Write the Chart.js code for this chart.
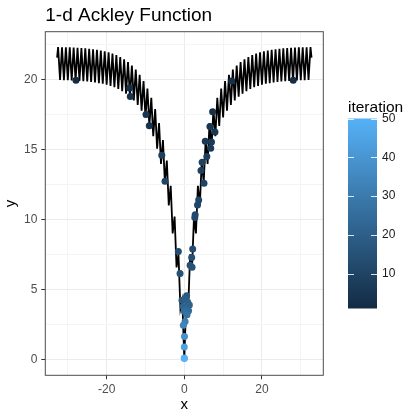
<!DOCTYPE html>
<html>
<head>
<meta charset="utf-8">
<script src="https://cdn.jsdelivr.net/npm/chart.js@4.4.1/dist/chart.umd.min.js"></script>
<style>
  html, body { margin: 0; padding: 0; background: #fff; }
  canvas { display: block; }
</style>
</head>
<body>
<canvas id="ackley" width="408" height="413"></canvas>
<script>
// Ackley function, 1-d, sampled every half unit (troughs at integers, peaks at halves)
var curveX = [
  -32.77, -32.5, -32, -31.5, -31, -30.5, -30, -29.5, -29, -28.5, -28, -27.5, -27, -26.5, -26, -25.5,
  -25, -24.5, -24, -23.5, -23, -22.5, -22, -21.5, -21, -20.5, -20, -19.5, -19, -18.5, -18, -17.5,
  -17, -16.5, -16, -15.5, -15, -14.5, -14, -13.5, -13, -12.5, -12, -11.5, -11, -10.5, -10, -9.5,
  -9, -8.5, -8, -7.5, -7, -6.5, -6, -5.5, -5, -4.5, -4, -3.5, -3, -2.5, -2, -1.5, -1, -0.5,
  0,
  0.5, 1, 1.5, 2, 2.5, 3, 3.5, 4, 4.5, 5, 5.5, 6, 6.5, 7, 7.5, 8, 8.5, 9, 9.5, 10,
  10.5, 11, 11.5, 12, 12.5, 13, 13.5, 14, 14.5, 15, 15.5, 16, 16.5, 17, 17.5, 18, 18.5, 19, 19.5, 20,
  20.5, 21, 21.5, 22, 22.5, 23, 23.5, 24, 24.5, 25, 25.5, 26, 26.5, 27, 27.5, 28, 28.5, 29, 29.5, 30,
  30.5, 31, 31.5, 32, 32.5, 32.77
]
var curveY = [
  21.57, 22.32, 19.97, 22.31, 19.96, 22.31, 19.95, 22.30, 19.94, 22.28, 19.93, 22.27, 19.91, 22.25, 19.89, 22.23,
  19.87, 22.20, 19.84, 22.17, 19.80, 22.13, 19.75, 22.08, 19.70, 22.02, 19.63, 21.95, 19.55, 21.86, 19.45, 21.75,
  19.33, 21.61, 19.18, 21.45, 19.00, 21.25, 18.78, 21.01, 18.51, 20.71, 18.19, 20.35, 17.78, 19.90, 17.29, 19.36,
  16.69, 18.70, 15.96, 17.89, 15.07, 16.90, 13.98, 15.69, 12.64, 14.22, 11.01, 12.42, 9.02, 10.22, 6.59, 7.53, 3.63, 4.25,
  0,
  4.25, 3.63, 7.53, 6.59, 10.22, 9.02, 12.42, 11.01, 14.22, 12.64, 15.69, 13.98, 16.90, 15.07, 17.89, 15.96, 18.70, 16.69, 19.36, 17.29,
  19.90, 17.78, 20.35, 18.19, 20.71, 18.51, 21.01, 18.78, 21.25, 19.00, 21.45, 19.18, 21.61, 19.33, 21.75, 19.45, 21.86, 19.55, 21.95, 19.63,
  22.02, 19.70, 22.08, 19.75, 22.13, 19.80, 22.17, 19.84, 22.20, 19.87, 22.23, 19.89, 22.25, 19.91, 22.27, 19.93, 22.28, 19.94, 22.30, 19.95,
  22.31, 19.96, 22.31, 19.97, 22.32, 21.57
]

// search points, one per step, coloured by iteration
var pointX = [-27.9, 28.06, 12.2, -14.1, -13.9, 7.3, -9.86, -9.0, 6.6, 7.9, 5.4, 7.0, 6.8, -5.8, 5.8, 4.6, 4.3,
  -4.97, 5.07, 3.7, 3.4, 2.8, 2.7, 2.16, -1.54, 1.9, 1.5, 2.0, -1.1, 0.6, -0.6, 0.2, 0.9, 1.3, -0.3, 0.5, 1.1, 0.0,
  0.7, 0.2, -0.25, 0.05, 0.0, 0.0, 0.0]
var pointY = [19.95, 19.95, 19.9, 19.4, 18.8, 17.7, 17.5, 16.7, 16.65, 16.25, 15.6, 15.55, 15.1, 14.6, 14.5, 14.1, 13.5,
  12.75, 12.6, 11.4, 11.05, 10.35, 10.15, 7.9, 7.72, 7.3, 6.75, 6.6, 6.15, 4.56, 4.25, 4.3, 4.1, 3.9, 3.8, 3.6, 3.5, 3.45,
  3.2, 2.73, 2.45, 1.66, 0.9, 0.12, 0.08]
var pointIter = [1, 2, 3, 2, 4, 3, 5, 4, 5, 6, 6, 7, 7, 8, 8, 9, 9,
  10, 10, 11, 11, 12, 12, 13, 13, 14, 14, 15, 15, 17, 18, 19, 20, 21, 22, 23, 24, 25,
  27, 31, 33, 38, 44, 47, 50]

var xGrid = [-30, -20, -10, 0, 10, 20, 30]
var xLabels = [-20, 0, 20]
var yGrid = [0, 2.5, 5, 7.5, 10, 12.5, 15, 17.5, 20, 22.5]
var yLabels = [0, 5, 10, 15, 20]
var iterRange = [1, 50]
var iterTicks = [10, 20, 30, 40, 50]

var lowCol = [19, 43, 67]
var highCol = [86, 177, 247]
function iterColor(it) {
  var t = (it - iterRange[0]) / (iterRange[1] - iterRange[0])
  var c = lowCol.map((lo, i) => Math.round(lo + (highCol[i] - lo) * t))
  return 'rgb(' + c.join(',') + ')'
}

var FONT = '"Liberation Sans", Arial, Helvetica, sans-serif'

var decor = {
  id: 'decor',
  beforeDraw(chart) {
    const ctx = chart.ctx
    ctx.save()
    ctx.fillStyle = '#fff'
    ctx.fillRect(0, 0, chart.width, chart.height)
    ctx.restore()
  },
  afterDatasetsDraw(chart) {
    const a = chart.chartArea
    const ctx = chart.ctx
    ctx.save()
    ctx.strokeStyle = '#4d4d4d'
    ctx.lineWidth = 1
    ctx.strokeRect(a.left, a.top, a.right - a.left, a.bottom - a.top)
    ctx.restore()
  },
  afterDraw(chart) {
    const a = chart.chartArea
    const ctx = chart.ctx
    ctx.save()
    ctx.fillStyle = '#000'
    ctx.textBaseline = 'alphabetic'

    // title
    ctx.font = '19px ' + FONT
    ctx.textAlign = 'left'
    ctx.fillText('1-d Ackley Function', a.left, 21)

    // axis titles
    ctx.font = '15px ' + FONT
    ctx.textAlign = 'center'
    ctx.fillText('x', (a.left + a.right) / 2, 409)
    ctx.save()
    ctx.translate(15, (a.top + a.bottom) / 2)
    ctx.rotate(-Math.PI / 2)
    ctx.fillText('y', 0, 0)
    ctx.restore()

    // colour bar legend
    const bx = 348, bw = 29, top = 118.5, bottom = 308.5
    ctx.textAlign = 'left'
    ctx.font = '15.5px ' + FONT
    ctx.fillText('iteration', bx, 112)
    const grad = ctx.createLinearGradient(0, bottom, 0, top)
    grad.addColorStop(0, iterColor(iterRange[0]))
    grad.addColorStop(1, iterColor(iterRange[1]))
    ctx.fillStyle = grad
    ctx.fillRect(bx, top, bw, bottom - top)
    const yOf = v => bottom - (v - iterRange[0]) / (iterRange[1] - iterRange[0]) * (bottom - top)
    ctx.strokeStyle = 'rgba(255,255,255,0.85)'
    ctx.lineWidth = 1
    ctx.fillStyle = '#1a1a1a'
    ctx.font = '12px ' + FONT
    ctx.textBaseline = 'middle'
    iterTicks.forEach(v => {
      const y = Math.round(yOf(v)) + 0.5
      ctx.beginPath()
      ctx.moveTo(bx, y); ctx.lineTo(bx + 6, y)
      ctx.moveTo(bx + bw - 6, y); ctx.lineTo(bx + bw, y)
      ctx.stroke()
      ctx.fillText(String(v), bx + bw + 5, yOf(v))
    })
    ctx.restore()
  }
}

var curveData = curveX.map((x, i) => ({ x: x, y: curveY[i] }))
var pointData = pointX.map((x, i) => ({ x: x, y: pointY[i] }))

new Chart(document.getElementById('ackley'), {
  type: 'scatter',
  data: {
    datasets: [
      {
        label: 'f(x)',
        data: curveData,
        showLine: true,
        borderColor: '#000',
        borderWidth: 1.8,
        pointRadius: 0,
        tension: 0,
        order: 2,
      },
      {
        label: 'iteration',
        data: pointData,
        pointRadius: 3.5,
        pointBorderWidth: 0,
        pointBackgroundColor: pointIter.map(iterColor),
        pointBorderColor: pointIter.map(iterColor),
        order: 1,
      },
    ],
  },
  options: {
    responsive: false,
    animation: false,
    devicePixelRatio: 1,
    events: [],
    layout: { padding: { top: 31.7, right: 84.7, left: 0, bottom: 0 } },
    plugins: {
      legend: { display: false },
      title: { display: false },
      tooltip: { enabled: false },
    },
    scales: {
      x: {
        type: 'linear',
        min: -35.8,
        max: 35.8,
        afterBuildTicks: (s) => { s.ticks = xGrid.map(v => ({ value: v })) },
        afterFit: (s) => { s.height = 37.7 },
        border: { display: false },
        grid: {
          color: (c) => xLabels.includes(c.tick && c.tick.value) ? '#ebebeb' : '#f4f4f4',
          lineWidth: 1,
          tickLength: 4,
          tickColor: (c) => xLabels.includes(c.tick && c.tick.value) ? '#333' : 'rgba(0,0,0,0)',
        },
        ticks: {
          autoSkip: false,
          maxRotation: 0,
          padding: 3,
          color: '#4d4d4d',
          font: { family: FONT, size: 12 },
          callback: (v) => xLabels.includes(v) ? String(v) : '',
        },
      },
      y: {
        type: 'linear',
        min: -1.115,
        max: 23.42,
        afterBuildTicks: (s) => { s.ticks = yGrid.map(v => ({ value: v })) },
        afterFit: (s) => { s.width = 45.3 },
        border: { display: false },
        grid: {
          color: (c) => yLabels.includes(c.tick && c.tick.value) ? '#ebebeb' : '#f4f4f4',
          lineWidth: 1,
          tickLength: 4,
          tickColor: (c) => yLabels.includes(c.tick && c.tick.value) ? '#333' : 'rgba(0,0,0,0)',
        },
        ticks: {
          autoSkip: false,
          padding: 4,
          color: '#4d4d4d',
          font: { family: FONT, size: 12 },
          callback: (v) => yLabels.includes(v) ? String(v) : '',
        },
      },
    },
  },
  plugins: [decor],
})
</script>
</body>
</html>
